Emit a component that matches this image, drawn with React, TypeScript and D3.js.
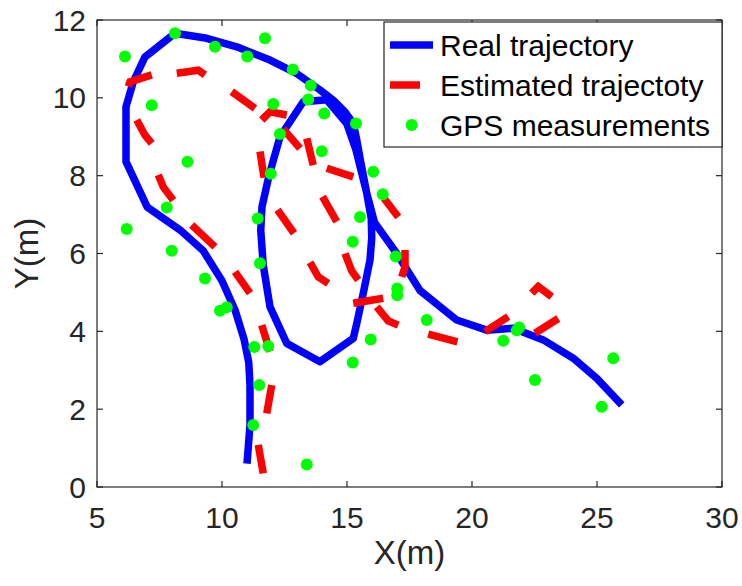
import React from 'react';
import * as d3 from 'd3';

type P = [number, number];

const xTicks = [5, 10, 15, 20, 25, 30];
const yTicks = [0, 2, 4, 6, 8, 10, 12];
const xLabel = 'X(m)';
const yLabel = 'Y(m)';
const legendLabels = ['Real trajectory', 'Estimated trajectoty', 'GPS measurements'];

const realTrajectory: P[] = [
  [11.0, 0.6], [11.12, 1.6], [11.12, 2.6], [11.07, 3.2], [10.88, 3.8], [10.52, 4.55], [10.0, 5.3],
  [9.25, 6.07], [8.37, 6.58], [7.01, 7.19], [6.16, 8.36], [6.16, 9.77], [6.45, 10.41], [6.92, 11.05],
  [8.12, 11.66], [9.39, 11.53], [10.59, 11.31], [11.92, 10.97], [13.0, 10.62], [13.92, 10.2],
  [14.45, 9.94], [14.92, 9.64], [15.25, 9.34], [15.39, 8.92], [15.52, 8.45], [15.79, 7.55],
  [15.97, 6.9], [15.99, 6.4], [15.92, 5.83], [15.65, 4.98], [15.39, 4.2], [15.25, 3.82],
  [13.92, 3.22], [12.59, 3.69], [11.92, 4.63], [11.65, 5.7], [11.55, 6.6], [11.6, 7.2],
  [11.88, 8.0], [12.32, 9.0], [13.25, 9.9], [14.19, 9.95], [14.99, 9.34], [15.36, 8.66],
  [15.79, 7.55], [16.1, 6.8], [16.99, 6.0], [17.92, 5.05], [19.39, 4.29], [20.59, 4.03],
  [21.65, 4.08], [22.85, 3.78], [24.05, 3.31], [24.99, 2.79], [25.99, 2.11],
];

// visible dashes of the estimated trajectory
const estimatedTrajectory: P[][] = [
  [[11.65, 0.35], [11.45, 1.08]],
  [[11.79, 1.89], [11.99, 2.62]],
  [[11.92, 3.48], [11.59, 4.16]],
  [[11.12, 4.98], [10.52, 5.53]],
  [[9.72, 6.17], [8.79, 6.73]],
  [[8.05, 7.37], [7.65, 7.71], [7.45, 8.02]],
  [[7.19, 8.83], [6.92, 9.04], [6.59, 9.43]],
  [[6.25, 10.29], [6.32, 10.41], [7.19, 10.59]],
  [[8.19, 10.63], [9.05, 10.71], [9.32, 10.59]],
  [[10.39, 10.16], [11.32, 9.73]],
  [[11.59, 9.43], [11.92, 9.64], [12.59, 9.56]],
  [[12.45, 9.2], [13.12, 8.7]],
  [[13.39, 8.96], [13.65, 8.27]],
  [[14.19, 8.19], [15.25, 7.97]],
  [[16.48, 7.42], [17.05, 6.94]],
  [[17.32, 6.09], [17.32, 5.65], [17.19, 5.4]],
  [[16.45, 4.85], [15.25, 4.72]],
  [[16.19, 4.63], [16.65, 4.27], [17.05, 4.16]],
  [[18.25, 3.93], [19.42, 3.73]],
  [[20.52, 3.99], [21.45, 4.38]],
  [[22.39, 4.98], [22.65, 5.15], [23.19, 4.89]],
  [[22.52, 3.95], [23.45, 4.33]],
  [[11.52, 8.62], [11.68, 7.95]],
  [[12.22, 7.12], [12.88, 6.52]],
  [[13.52, 5.77], [13.85, 5.4], [14.25, 5.23]],
  [[14.02, 7.46], [14.59, 6.82]],
  [[14.92, 6.0], [15.19, 5.55], [15.45, 5.32]],
];

const gpsMeasurements: P[] = [
  [6.12, 11.06], [8.12, 11.66], [9.72, 11.31], [11.72, 11.53], [11.01, 11.06], [12.83, 10.73],
  [13.55, 10.32], [13.45, 9.96], [7.19, 9.81], [12.05, 9.84], [12.32, 9.07], [8.62, 8.36],
  [11.95, 8.05], [7.79, 7.18], [11.43, 6.9], [6.19, 6.63], [7.99, 6.07], [9.32, 5.36],
  [9.92, 4.53], [10.19, 4.62], [11.29, 3.6], [11.85, 3.62], [11.49, 2.62], [11.25, 1.59],
  [13.39, 0.58], [11.52, 5.75], [14.09, 9.6], [15.36, 9.34], [13.99, 8.63], [16.05, 8.1],
  [16.43, 7.52], [15.52, 6.94], [15.23, 6.3], [16.95, 5.92], [17.01, 5.1], [17.01, 4.93],
  [18.19, 4.29], [15.95, 3.79], [15.23, 3.2], [21.25, 3.76], [21.79, 4.03], [21.89, 4.1],
  [22.52, 2.75], [25.65, 3.31], [25.19, 2.06],
];

const AXIS = '#262626';
const FONT = '"Liberation Sans", Arial, Helvetica, sans-serif';

export default function App() {
  const W = 742, H = 586;
  const x = d3.scaleLinear().domain([5, 30]).range([97, 722]);
  const y = d3.scaleLinear().domain([0, 12]).range([487, 20]);
  const line = d3.line<P>().x(d => x(d[0])).y(d => y(d[1]));
  const [x0, x1] = x.range();
  const [y0, y1] = y.range();
  const tl = 6;

  const lg = { x: 384, y: 22, w: 338, h: 125 };
  const rowY = [45, 85, 125];

  return (
    <svg width={W} height={H} style={{ position: 'absolute', left: 0, top: 0, background: '#fff' }}
      fontFamily={FONT}>
      <rect x={0} y={0} width={W} height={H} fill="#fff" />
      {/* data */}
      <path d={line(realTrajectory) || ''} fill="none" stroke="#0000ff" strokeWidth={7.5}
        strokeLinejoin="round" strokeLinecap="butt" />
      {estimatedTrajectory.map((seg, i) => (
        <path key={i} d={line(seg) || ''} fill="none" stroke="#ff0000" strokeWidth={7.5}
          strokeLinejoin="miter" strokeLinecap="butt" />
      ))}
      {gpsMeasurements.map((p, i) => (
        <circle key={i} cx={x(p[0])} cy={y(p[1])} r={6} fill="#00ff00" />
      ))}
      {/* axes box */}
      <rect x={x0} y={y1} width={x1 - x0} height={y0 - y1} fill="none" stroke={AXIS} strokeWidth={1.2} />
      {xTicks.map(t => (
        <g key={'x' + t}>
          <line x1={x(t)} x2={x(t)} y1={y0} y2={y0 - tl} stroke={AXIS} strokeWidth={1.2} />
          <line x1={x(t)} x2={x(t)} y1={y1} y2={y1 + tl} stroke={AXIS} strokeWidth={1.2} />
          <text x={x(t)} y={528} textAnchor="middle" fontSize={30} fill={AXIS}>{t}</text>
        </g>
      ))}
      {yTicks.map(t => (
        <g key={'y' + t}>
          <line x1={x0} x2={x0 + tl} y1={y(t)} y2={y(t)} stroke={AXIS} strokeWidth={1.2} />
          <line x1={x1} x2={x1 - tl} y1={y(t)} y2={y(t)} stroke={AXIS} strokeWidth={1.2} />
          <text x={86} y={y(t) + 10.5} textAnchor="end" fontSize={30} fill={AXIS}>{t}</text>
        </g>
      ))}
      <text x={(x0 + x1) / 2} y={564} textAnchor="middle" fontSize={33} fill={AXIS}>{xLabel}</text>
      <text transform={`translate(38,${(y0 + y1) / 2}) rotate(-90)`} textAnchor="middle" fontSize={33}
        fill={AXIS}>{yLabel}</text>
      {/* legend */}
      <rect x={lg.x} y={lg.y} width={lg.w} height={lg.h} fill="#fff" stroke={AXIS} strokeWidth={1.2} />
      <line x1={390} x2={433} y1={rowY[0]} y2={rowY[0]} stroke="#0000ff" strokeWidth={7.5} />
      <line x1={390} x2={420} y1={rowY[1]} y2={rowY[1]} stroke="#ff0000" strokeWidth={7.5} />
      <circle cx={411.7} cy={rowY[2]} r={6} fill="#00ff00" />
      {legendLabels.map((l, i) => (
        <text key={l} x={440} y={rowY[i] + 10.8} fontSize={30} fill="#000">{l}</text>
      ))}
    </svg>
  );
}
